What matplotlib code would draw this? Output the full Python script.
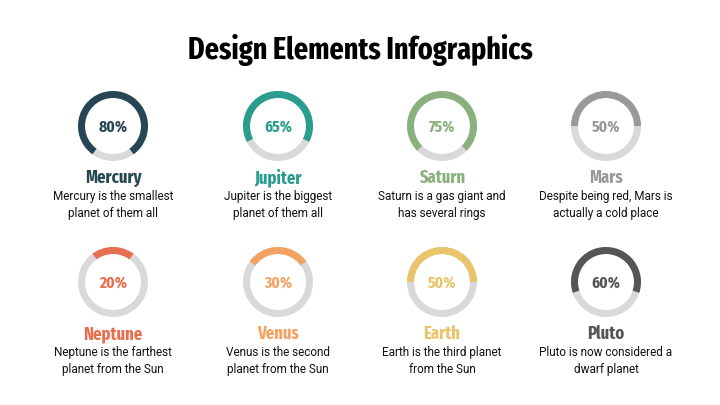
import matplotlib
matplotlib.use("Agg")
import matplotlib.pyplot as plt
from matplotlib.patches import Wedge

names = ["Mercury", "Jupiter", "Saturn", "Mars", "Neptune", "Venus", "Earth", "Pluto"]
percents = [80, 65, 75, 50, 20, 30, 50, 60]
colors = ["#264653", "#2a9d8f", "#8ab17d", "#999999", "#e76f51", "#f4a261", "#e9c46a", "#555555"]
descriptions = [
    "Mercury is the smallest\nplanet of them all",
    "Jupiter is the biggest\nplanet of them all",
    "Saturn is a gas giant and\nhas several rings",
    "Despite being red, Mars is\nactually a cold place",
    "Neptune is the farthest\nplanet from the Sun",
    "Venus is the second\nplanet from the Sun",
    "Earth is the third planet\nfrom the Sun",
    "Pluto is now considered a\ndwarf planet",
]
title = "Design Elements Infographics"

cond = ["Fira Sans Extra Condensed", "DejaVu Sans"]
body = ["Roboto", "DejaVu Sans"]

fig = plt.figure(figsize=(7.2, 4.05), dpi=100)
ax = fig.add_axes([0, 0, 1, 1])
ax.set_xlim(0, 720)
ax.set_ylim(405, 0)
ax.axis("off")

ax.text(360, 50, title, ha="center", va="center", fontsize=22, fontweight="bold",
        family=cond, color="#000000")

col_x = [113, 278, 442, 606]
row_y = [126, 282]
R = 35
W = 7
track = "#d9d9d9"

for i, (name, p, c, d) in enumerate(zip(names, percents, colors, descriptions)):
    cx = col_x[i % 4]
    cy = row_y[i // 4]
    span = 360 * p / 100.0
    a1 = 270 - span / 2
    a2 = 270 + span / 2
    ax.add_patch(Wedge((cx, cy), R, 0, 360, width=W, facecolor=track, edgecolor="none"))
    ax.add_patch(Wedge((cx, cy), R, a1, a2, width=W, facecolor=c, edgecolor="none"))
    ax.text(cx, cy + 1, f"{p}%", ha="center", va="center", fontsize=12, fontweight="bold",
            family=cond, color=c)
    ax.text(cx, cy + 52, name, ha="center", va="center", fontsize=13, fontweight="bold",
            family=cond, color=c)
    ax.text(cx, cy + 79, d, ha="center", va="center", fontsize=8.5, family=body,
            color="#111111", linespacing=1.35)

fig.savefig("out.png", dpi=100, facecolor="white")
